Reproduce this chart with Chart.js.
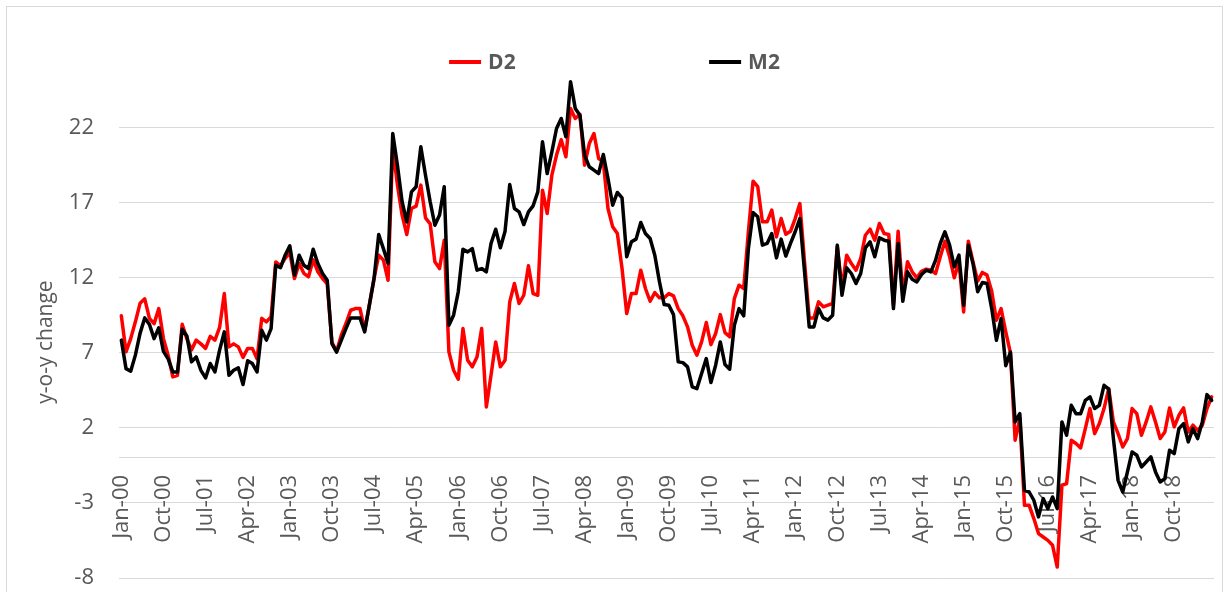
<!DOCTYPE html>
<html>
<head>
<meta charset="utf-8">
<script src="https://cdn.jsdelivr.net/npm/chart.js@4.4.1/dist/chart.umd.min.js"></script>
<style>
  html, body { margin: 0; padding: 0; background: #fff; }
  canvas { display: block; }
</style>
</head>
<body>
<canvas id="chart-d2-m2" width="1225" height="592"></canvas>
<script>
// monthly categories, Jan-00 .. Jun-19
var monthNames = ['Jan','Feb','Mar','Apr','May','Jun','Jul','Aug','Sep','Oct','Nov','Dec'];
var categories = [];
for (var yr = 0; yr <= 19; yr++) {
	for (var m = 0; m < 12; m++) {
		if (yr === 19 && m > 5) break;
		categories.push(monthNames[m] + '-' + (yr < 10 ? '0' + yr : '' + yr));
	}
}

var tickLabels = ['Jan-00','Oct-00','Jul-01','Apr-02','Jan-03','Oct-03','Jul-04','Apr-05','Jan-06',
	'Oct-06','Jul-07','Apr-08','Jan-09','Oct-09','Jul-10','Apr-11','Jan-12','Oct-12','Jul-13',
	'Apr-14','Jan-15','Oct-15','Jul-16','Apr-17','Jan-18','Oct-18'];

var yTicks = [-8, -3, 2, 7, 12, 17, 22];

var d2 = [
	9.47, 7.07, 7.95, 9.07, 10.3, 10.6, 9.3, 8.95, 9.95, 7.95, 6.85, 5.4,
	5.5, 8.9, 7.95, 7.2, 7.85, 7.6, 7.3, 8.1, 7.85, 8.7, 10.95, 7.4,
	7.6, 7.4, 6.7, 7.3, 7.3, 6.6, 9.3, 9.07, 9.4, 13.06, 12.8, 13.3,
	13.7, 11.95, 12.95, 12.3, 12.07, 13.2, 12.4, 11.95, 11.6, 7.7, 7.1, 8.18,
	8.96, 9.84, 9.95, 9.95, 8.51, 10.18, 11.95, 13.51, 13.18, 11.84, 20.73, 18.18,
	16.18, 14.89, 16.62, 16.78, 18.18, 16.0, 15.6, 13.07, 12.62, 14.51, 7.07, 5.84,
	5.24, 8.62, 6.51, 6.07, 6.73, 8.62, 3.4, 5.51, 7.73, 6.07, 6.51, 10.4,
	11.62, 10.29, 10.84, 12.8, 10.95, 10.84, 17.84, 16.29, 18.84, 20.18, 21.2, 20.07,
	23.29, 22.62, 22.89, 19.51, 20.95, 21.62, 19.95, 19.73, 16.62, 15.4, 14.95, 12.62,
	9.62, 10.95, 10.95, 12.51, 11.29, 10.44, 11.02, 10.67, 10.67, 10.95, 10.8, 9.95,
	9.47, 8.73, 7.51, 6.84, 7.73, 9.02, 7.55, 8.29, 9.55, 8.35, 8.07, 10.62,
	11.51, 11.29, 15.07, 18.44, 18.07, 15.73, 15.73, 16.51, 14.73, 15.95, 14.9, 15.1,
	15.95, 16.95, 13.07, 9.33, 9.33, 10.4, 10.07, 10.18, 10.29, 14.07, 11.29, 13.51,
	12.95, 12.51, 13.29, 14.84, 15.24, 14.51, 15.62, 14.95, 14.89, 10.18, 15.11, 10.84,
	13.07, 12.4, 12.0, 12.44, 12.58, 12.51, 12.29, 13.4, 14.44, 13.4, 12.0, 13.07,
	9.73, 14.44, 13.07, 11.78, 12.36, 12.18, 11.11, 9.18, 9.95, 8.4, 7.0, 1.18,
	2.62, -3.16, -3.16, -4.04, -5.04, -5.27, -5.49, -5.82, -7.27, -1.82, -1.71, 1.18,
	0.96, 0.67, 1.95, 3.29, 1.62, 2.29, 3.29, 4.62, 2.4, 1.62, 0.73, 1.29,
	3.29, 2.95, 1.51, 2.4, 3.4, 2.4, 1.29, 1.73, 3.33, 2.07, 2.84, 3.33,
	1.73, 2.18, 1.84, 2.18, 3.29, 4.07
];

var m2 = [
	7.85, 5.95, 5.78, 6.85, 8.3, 9.33, 8.9, 7.95, 8.67, 7.1, 6.6, 5.73,
	5.73, 8.58, 8.13, 6.4, 6.73, 5.84, 5.33, 6.29, 5.73, 7.18, 8.4, 5.51,
	5.84, 6.0, 4.89, 6.47, 6.29, 5.73, 8.51, 7.85, 8.62, 12.84, 12.67, 13.51,
	14.13, 12.18, 13.51, 12.84, 12.62, 13.91, 12.95, 12.29, 11.84, 7.62, 7.05, 7.84,
	8.62, 9.33, 9.33, 9.33, 8.4, 10.18, 11.95, 14.89, 13.95, 12.95, 21.62, 19.51,
	17.07, 15.73, 17.73, 18.07, 20.73, 18.84, 17.07, 15.51, 16.18, 18.07, 8.84, 9.51,
	11.07, 13.91, 13.73, 13.95, 12.51, 12.62, 12.4, 14.29, 15.24, 14.0, 15.11, 18.22,
	16.62, 16.4, 15.55, 16.4, 16.8, 17.73, 21.07, 18.95, 20.4, 21.95, 22.62, 21.4,
	25.07, 23.29, 22.84, 20.18, 19.4, 19.18, 18.95, 20.22, 18.62, 16.84, 17.69, 17.33,
	13.4, 14.4, 14.58, 15.69, 14.95, 14.62, 13.51, 11.73, 10.22, 10.18, 9.55, 6.4,
	6.35, 6.07, 4.73, 4.62, 5.62, 6.62, 5.02, 6.18, 7.73, 6.22, 5.91, 8.84,
	9.95, 9.47, 13.95, 16.35, 16.07, 14.18, 14.29, 14.95, 13.33, 14.58, 13.45, 14.3,
	15.07, 15.95, 12.4, 8.73, 8.73, 9.95, 9.33, 9.18, 9.51, 14.18, 10.84, 12.67,
	12.29, 11.62, 12.29, 14.0, 14.4, 13.4, 14.67, 14.51, 14.44, 9.95, 14.29, 10.44,
	12.4, 11.91, 11.73, 12.22, 12.51, 12.4, 13.18, 14.29, 15.07, 14.18, 12.73, 13.51,
	10.18, 14.18, 12.95, 11.07, 11.69, 11.62, 9.95, 7.84, 9.29, 6.15, 7.05, 2.4,
	2.95, -2.16, -2.27, -2.82, -3.93, -2.71, -3.38, -2.6, -3.38, 2.4, 1.51, 3.51,
	2.95, 2.95, 3.84, 4.07, 3.29, 3.51, 4.84, 4.58, 1.29, -1.49, -2.27, -0.93,
	0.4, 0.18, -0.6, -0.27, 0.07, -0.93, -1.6, -1.38, 0.51, 0.29, 1.95, 2.29,
	1.07, 1.95, 1.29, 2.4, 4.22, 3.84
];

var textGrey = '#595959';
var gridGrey = '#d9d9d9';
var baseFont = "'Open Sans', 'Noto Sans', sans-serif";

// white background, outer frame and the legend on top
var frameAndLegend = {
	id: 'frameAndLegend',
	beforeDraw: function(chart) {
		var ctx = chart.ctx;
		ctx.save();
		ctx.fillStyle = '#fff';
		ctx.fillRect(0, 0, chart.width, chart.height);
		ctx.strokeStyle = gridGrey;
		ctx.lineWidth = 1;
		ctx.strokeRect(6.5, 6.5, 1216, 620);
		ctx.restore();
	},
	afterDraw: function(chart) {
		var ctx = chart.ctx;
		var sets = chart.data.datasets.slice().sort(function(a, b) { return a.legendIndex - b.legendIndex; });
		ctx.save();
		ctx.font = 'bold 21px ' + baseFont;
		ctx.textBaseline = 'middle';
		var sample = 32, gap = 7, pitch = 260, y = 62;
		var lastW = sample + gap + ctx.measureText(sets[sets.length - 1].label).width;
		var x = 614.5 - (pitch * (sets.length - 1) + lastW) / 2;
		sets.forEach(function(ds) {
			ctx.strokeStyle = ds.borderColor;
			ctx.lineWidth = 4;
			ctx.beginPath();
			ctx.moveTo(x, y);
			ctx.lineTo(x + sample, y);
			ctx.stroke();
			ctx.fillStyle = textGrey;
			ctx.fillText(ds.label, x + sample + gap, y + 1);
			x += pitch;
		});
		ctx.restore();
	}
};

var ctx = document.getElementById('chart-d2-m2');
var chart = new Chart(ctx, {
	type: 'line',
	data: {
		labels: categories,
		datasets: [
			{
				label: 'D2',
				legendIndex: 0,
				order: 2,
				data: d2,
				borderColor: '#ff0000',
				backgroundColor: '#ff0000',
				borderWidth: 3.5,
				pointRadius: 0,
				tension: 0,
				clip: false,
				borderJoinStyle: 'round',
				borderCapStyle: 'round'
			},
			{
				label: 'M2',
				legendIndex: 1,
				order: 1,
				data: m2,
				borderColor: '#000000',
				backgroundColor: '#000000',
				borderWidth: 3.5,
				pointRadius: 0,
				tension: 0,
				clip: false,
				borderJoinStyle: 'round',
				borderCapStyle: 'round'
			}
		]
	},
	options: {
		responsive: false,
		animation: false,
		layout: { padding: { top: 106, right: 11, bottom: 14, left: 0 } },
		plugins: {
			legend: { display: false },
			tooltip: { enabled: false }
		},
		scales: {
			x: {
				type: 'category',
				position: { y: 0 },
				offset: true,
				grid: { display: false, drawTicks: false },
				border: { display: true, color: gridGrey, width: 1 },
				ticks: {
					autoSkip: false,
					minRotation: 90,
					maxRotation: 90,
					padding: 17,
					color: textGrey,
					font: { family: baseFont, size: 22 },
					callback: function(value) {
						var lab = this.getLabelForValue(value);
						return tickLabels.indexOf(lab) >= 0 ? lab : null;
					}
				}
			},
			y: {
				min: -8,
				max: 23.45,
				grid: { color: gridGrey, lineWidth: 1, drawTicks: false },
				border: { display: false },
				afterBuildTicks: function(scale) {
					scale.ticks = yTicks.map(function(v) { return { value: v }; });
				},
				afterFit: function(scale) {
					scale.width = 119;
					// labels sit well inside the plot, no extra room needed
					scale.paddingTop = 0;
					scale.paddingBottom = 0;
				},
				ticks: {
					padding: 25,
					color: textGrey,
					font: { family: baseFont, size: 22 }
				},
				title: {
					display: true,
					text: 'y-o-y change',
					color: textGrey,
					font: { family: baseFont, size: 21 },
					padding: { top: 33, bottom: 0 }
				}
			}
		}
	},
	plugins: [frameAndLegend]
});
</script>
</body>
</html>
